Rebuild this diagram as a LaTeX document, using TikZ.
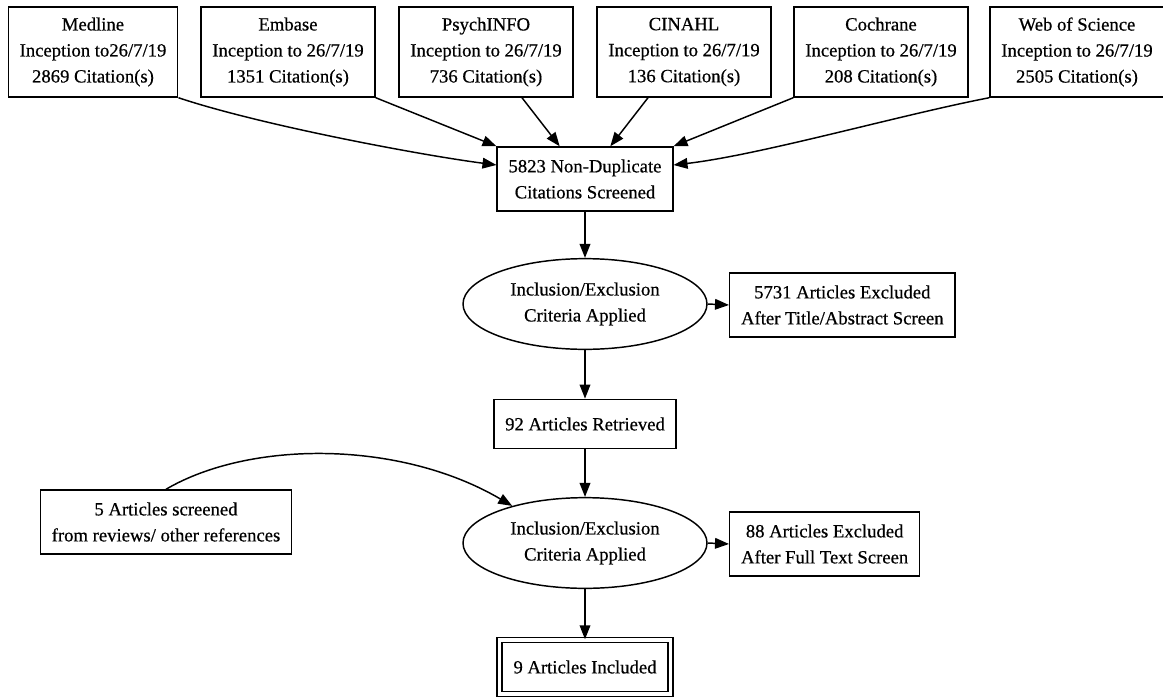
\documentclass[tikz,border=0pt]{standalone}
\usepackage{fontspec}
\setmainfont{Liberation Serif}[FakeBold=0.6]
\usepackage{tikz}
\usetikzlibrary{arrows.meta,shapes.geometric}
\tikzset{txt/.style={font=\fontsize{14}{19.5}\selectfont, align=center},
  srcbox/.style={txt, draw, line width=1.1pt, rectangle, inner xsep=8.5pt, inner ysep=0pt, minimum height=67.5pt},
  twobox/.style={txt, draw, line width=1.1pt, rectangle, inner xsep=8.5pt, inner ysep=0pt, minimum height=48pt},
  onebox/.style={txt, draw, line width=1.1pt, rectangle, inner xsep=8.5pt, inner ysep=0pt, minimum height=37pt},
  finalbox/.style={txt, draw, line width=1.1pt, double, double distance=2.6pt, rectangle, inner xsep=10.5pt, inner ysep=0pt, minimum height=40.5pt},
  crit/.style={txt, draw, line width=1.1pt, ellipse, inner sep=0pt, minimum width=183pt, minimum height=68pt},
  flow/.style={-{Triangle[length=10.5pt,width=8pt]}, line width=1.1pt}}

\begin{document}
\begin{tikzpicture}[x=0.75pt,y=-0.75pt]
\useasboundingbox (0,0) rectangle (1163,696);

\node[srcbox] (medline) at (93,52) {Medline\\Inception to26/7/19\\2869 Citation(s)};
\node[srcbox] (embase) at (288,52) {Embase\\Inception to 26/7/19\\1351 Citation(s)};
\node[srcbox] (psych) at (486,52) {PsychINFO\\Inception to 26/7/19\\736 Citation(s)};
\node[srcbox] (cinahl) at (684,52) {CINAHL\\Inception to 26/7/19\\136 Citation(s)};
\node[srcbox] (cochrane) at (881,52) {Cochrane\\Inception to 26/7/19\\208 Citation(s)};
\node[srcbox] (wos) at (1077,52) {Web of Science\\Inception to 26/7/19\\2505 Citation(s)};

\node[twobox] (dedup) at (585,179) {5823 Non-Duplicate\\Citations Screened};
\node[crit] (crit1) at (585,304) {Inclusion/Exclusion\\Criteria Applied};
\node[twobox,anchor=west] (excl1) at (729,305) {5731 Articles Excluded\\After Title/Abstract Screen};
\node[onebox] (retrieved) at (585,424) {92 Articles Retrieved};
\node[twobox] (extra) at (166,522) {5 Articles screened\\from reviews/ other references};
\node[crit] (crit2) at (585,543) {Inclusion/Exclusion\\Criteria Applied};
\node[twobox,anchor=west] (excl2) at (729,544) {88 Articles Excluded\\After Full Text Screen};
\node[finalbox] (included) at (585,667) {9 Articles Included};

\draw[flow] (medline.south east) .. controls (260,125) and (420,155) .. ([yshift=10.5pt]dedup.west);
\draw[flow] (embase.south east) -- (dedup.north west);
\draw[flow] ([xshift=27pt]psych.south) -- ([xshift=-19pt]dedup.north);
\draw[flow] ([xshift=-27pt]cinahl.south) -- ([xshift=19pt]dedup.north);
\draw[flow] (cochrane.south west) -- (dedup.north east);
\draw[flow] (wos.south west) .. controls (900,115) and (760,155) .. ([yshift=10.5pt]dedup.east);

\draw[flow] (dedup.south) -- (crit1.north);
\draw[flow] (crit1.east) -- (excl1.west);
\draw[flow] (crit1.south) -- (retrieved.north);
\draw[flow] (retrieved.south) -- (crit2.north);
\draw[flow] (extra.north) .. controls (250,440) and (400,440) .. (crit2.153);
\draw[flow] (crit2.east) -- (excl2.west);
\draw[flow] (crit2.south) -- (included.north);

\end{tikzpicture}
\end{document}
